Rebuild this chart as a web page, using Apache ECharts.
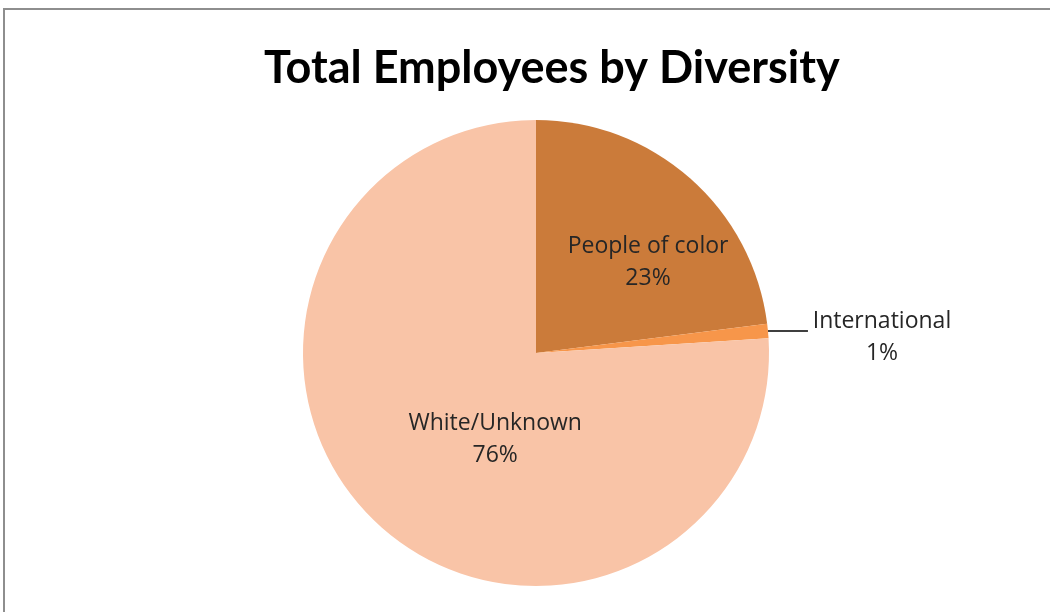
<!DOCTYPE html>
<html>
<head>
<meta charset="utf-8">
<script src="https://cdn.jsdelivr.net/npm/echarts@6/dist/echarts.min.js"></script>
<style>
  html, body { margin: 0; padding: 0; background: #fff; overflow: hidden; }
  #wrap { position: relative; width: 1050px; height: 612px; overflow: hidden; }
  #frame { position: absolute; left: 3px; top: 8px; width: 1100px; height: 700px; border: 2px solid #8e8e8e; box-sizing: border-box; }
  #chart { position: absolute; left: 0; top: 0; width: 1050px; height: 612px; }
</style>
</head>
<body>
<div id="wrap">
  <div id="frame"></div>
  <div id="chart"></div>
</div>
<script>
const titleText = 'Total Employees by Diversity';
const categories = ['People of color', 'International', 'White/Unknown'];
const values = [23, 1, 76];
const colors = ['#CB7B3A', '#F7964A', '#F9C4A7'];

const labelFont = 'Open Sans';
const labelSize = 23;
const labelStyles = [
  { position: 'inside', offset: [33, -1] },
  { position: 'outside' },
  { position: 'inside', offset: [41, -1] }
];

const data = categories.map((c, i) => {
  const item = { name: c, value: values[i], itemStyle: { color: colors[i] } };
  const ls = labelStyles[i];
  if (ls.position === 'inside') {
    item.label = { position: 'inside', offset: ls.offset, formatter: '{b}\n{d}%' };
    item.labelLine = { show: false };
  } else {
    item.label = {
      position: 'outside',
      formatter: p => '{a|' + p.name + '}\n{a|' + p.percent + '%}',
      padding: [14, 0, 0, 0],
      rich: { a: { width: 138, align: 'center', fontSize: labelSize, lineHeight: 32, color: '#262626', fontFamily: labelFont } }
    };
    item.labelLine = { show: true, length: 2, length2: 38, lineStyle: { color: '#000', width: 1.5 } };
  }
  return item;
});

const chart = echarts.init(document.getElementById('chart'), null, { renderer: 'canvas' });
chart.setOption({
  animation: false,
  backgroundColor: 'transparent',
  title: {
    text: titleText,
    left: 259,
    top: 41,
    textStyle: { fontFamily: 'Lato', fontWeight: 'bold', fontSize: 45, color: '#000' }
  },
  series: [{
    type: 'pie',
    center: [536, 353],
    radius: [0, 233],
    startAngle: 90,
    clockwise: true,
    avoidLabelOverlap: false,
    label: { fontFamily: labelFont, fontSize: labelSize, lineHeight: 32, color: '#262626' },
    itemStyle: { borderWidth: 0 },
    emphasis: { disabled: true },
    data: data
  }]
});
</script>
</body>
</html>
